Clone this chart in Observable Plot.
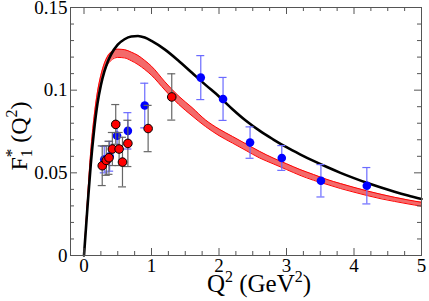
<!DOCTYPE html>
<html><head><meta charset="utf-8">
<script src="https://cdn.jsdelivr.net/npm/d3@7"></script>
<script src="https://cdn.jsdelivr.net/npm/@observablehq/plot@0.6"></script>
<style>body{margin:0;background:#fff}svg{display:block}</style>
</head><body><div id="chart"></div>
<script>
// Black model curve
const blackX = [0,0.05,0.1,0.15,0.2,0.25,0.3,0.35,0.4,0.5,0.6,0.7,0.8,0.9,1.0,1.2,1.4,1.6,1.8,2.0,2.2,2.4,2.6,2.8,3.0,3.2,3.4,3.6,3.8,4.0,4.2,4.4,4.6,4.8,5.0];
const blackY = [0,0.0285,0.055,0.076,0.092,0.103,0.111,0.117,0.1215,0.1275,0.1308,0.1325,0.1328,0.1318,0.1298,0.1245,0.1178,0.1105,0.1032,0.0962,0.0885,0.0815,0.0755,0.0703,0.0655,0.0612,0.0572,0.0535,0.0500,0.0468,0.0438,0.0411,0.0386,0.0363,0.0342];
// Red band (lower / upper)
const bandX = [0,0.05,0.1,0.15,0.2,0.25,0.3,0.35,0.4,0.5,0.6,0.7,0.8,0.9,1.0,1.2,1.4,1.6,1.8,2.0,2.2,2.4,2.6,2.8,3.0,3.2,3.4,3.6,3.8,4.0,4.2,4.4,4.6,4.8,5.0];
const bandLo = [0,0.030,0.058,0.079,0.094,0.104,0.111,0.1155,0.118,0.1198,0.1195,0.1178,0.1155,0.1125,0.109,0.100,0.0915,0.0845,0.078,0.0725,0.068,0.0635,0.059,0.0555,0.052,0.0485,0.0455,0.043,0.0405,0.0383,0.0362,0.0343,0.0327,0.0312,0.0298];
const bandHi = [0,0.033,0.063,0.084,0.099,0.109,0.116,0.1205,0.123,0.1248,0.1245,0.123,0.121,0.118,0.1145,0.105,0.0965,0.0895,0.082,0.0765,0.072,0.0675,0.063,0.059,0.0555,0.052,0.049,0.046,0.0435,0.0412,0.039,0.037,0.0352,0.0336,0.0322];
// Red data points
const redX = [0.27,0.33,0.37,0.42,0.47,0.52,0.57,0.65,0.95,1.30];
const redY = [0.0543,0.0575,0.0591,0.0644,0.0793,0.0644,0.0565,0.0678,0.0768,0.0959];
const redErr = [0.012,0.009,0.010,0.010,0.012,0.010,0.015,0.014,0.014,0.014];
// Blue data points
const blueX = [0.30,0.38,0.49,0.65,0.90,1.73,2.06,2.46,2.93,3.51,4.19];
const blueY = [0.058,0.060,0.0724,0.0754,0.0907,0.1076,0.0947,0.0683,0.0590,0.0452,0.0422];
const blueErr = [0.008,0.009,0.008,0.011,0.0135,0.0133,0.0130,0.0095,0.0075,0.0098,0.011];
// Ticks
const xMajor = [0,1,2,3,4,5];
const xMinor = [0.25,0.5,0.75,1.25,1.5,1.75,2.25,2.5,2.75,3.25,3.5,3.75,4.25,4.5,4.75];
const yMajor = [0,0.05,0.1,0.15];
const yMinor = [0.01,0.02,0.03,0.04,0.06,0.07,0.08,0.09,0.11,0.12,0.13,0.14];
const xTickLabels = ["0","1","2","3","4","5"];
const yTickLabels = ["0","0.05","0.1","0.15"];

const W = 429, H = 301, mL = 70, mR = 8, mT = 7, mB = 46;
const fh = H - mT - mB, fw = W - mL - mR;
const FONT = "Liberation Serif";
const black = blackX.map((x,i)=>({x, y: blackY[i]}));
const band = bandX.map((x,i)=>({x, lo: bandLo[i], hi: bandHi[i]}));
const red = redX.map((x,i)=>({x, y: redY[i], lo: redY[i]-redErr[i], hi: redY[i]+redErr[i]}));
const blue = blueX.map((x,i)=>({x, y: blueY[i], lo: blueY[i]-blueErr[i], hi: blueY[i]+blueErr[i]}));
const axisCol = "#555";
const capW = 4;

const svg = Plot.plot({
  width: W, height: H, marginLeft: mL, marginRight: mR, marginTop: mT, marginBottom: mB,
  style: {fontFamily: FONT, fontSize: "19px", color: "black", background: "white", overflow: "visible"},
  x: {domain: [-0.2, 5]},
  y: {domain: [0, 0.15]},
  marks: [
    Plot.areaY(band, {x: "x", y1: "lo", y2: "hi", fill: "#f36a6a", curve: "monotone-x"}),
    Plot.line(band, {x: "x", y: "lo", stroke: "red", strokeWidth: 1, curve: "monotone-x"}),
    Plot.line(band, {x: "x", y: "hi", stroke: "red", strokeWidth: 1, curve: "monotone-x"}),
    Plot.line(black, {x: "x", y: "y", stroke: "black", strokeWidth: 2.6, curve: "monotone-x"}),
    // blue error bars
    Plot.ruleX(blue, {x: "x", y1: "lo", y2: "hi", stroke: "#6b6bff", strokeWidth: 1.2}),
    Plot.ruleY(blue, {y: "hi", x1: "x", x2: "x", insetLeft: -capW, insetRight: -capW, stroke: "#6b6bff", strokeWidth: 1.2}),
    Plot.ruleY(blue, {y: "lo", x1: "x", x2: "x", insetLeft: -capW, insetRight: -capW, stroke: "#6b6bff", strokeWidth: 1.2}),
    Plot.dot(blue, {x: "x", y: "y", r: 4.3, fill: "#0000ff", stroke: "none"}),
    // red error bars
    Plot.ruleX(red, {x: "x", y1: "lo", y2: "hi", stroke: "#666", strokeWidth: 1.2}),
    Plot.ruleY(red, {y: "hi", x1: "x", x2: "x", insetLeft: -capW, insetRight: -capW, stroke: "#666", strokeWidth: 1.2}),
    Plot.ruleY(red, {y: "lo", x1: "x", x2: "x", insetLeft: -capW, insetRight: -capW, stroke: "#666", strokeWidth: 1.2}),
    Plot.dot(red, {x: "x", y: "y", r: 4.3, fill: "red", stroke: "black", strokeWidth: 1}),
    // inward ticks
    Plot.ruleX(xMajor, {x: d=>d, insetTop: fh - 7, stroke: axisCol}),
    Plot.ruleX(xMajor, {x: d=>d, insetBottom: fh - 7, stroke: axisCol}),
    Plot.ruleX(xMinor, {x: d=>d, insetTop: fh - 4, stroke: axisCol}),
    Plot.ruleX(xMinor, {x: d=>d, insetBottom: fh - 4, stroke: axisCol}),
    Plot.ruleY(yMajor, {y: d=>d, insetRight: fw - 7, stroke: axisCol}),
    Plot.ruleY(yMajor, {y: d=>d, insetLeft: fw - 7, stroke: axisCol}),
    Plot.ruleY(yMinor, {y: d=>d, insetRight: fw - 4, stroke: axisCol}),
    Plot.ruleY(yMinor, {y: d=>d, insetLeft: fw - 4, stroke: axisCol}),
    Plot.frame({stroke: axisCol, strokeWidth: 1}),
    Plot.axisX({ticks: xMajor, tickSize: 0, tickPadding: 3, label: null, fontFamily: FONT, fontSize: 19, tickFormat: (d)=>xTickLabels[xMajor.indexOf(d)]}),
    Plot.axisY({ticks: yMajor, tickSize: 0, tickPadding: 3, label: null, fontFamily: FONT, fontSize: 19, tickFormat: (d)=>yTickLabels[yMajor.indexOf(d)]})
  ]
});

const s = d3.select(svg);
// x axis label
const xl = s.append("text").attr("x", 259).attr("y", 292).attr("text-anchor", "middle")
  .attr("font-family", FONT).attr("font-size", 25).attr("fill", "black");
xl.append("tspan").text("Q");
xl.append("tspan").attr("dy", -10).attr("font-size", 16).text("2");
xl.append("tspan").attr("dy", 10).text(" (GeV");
xl.append("tspan").attr("dy", -10).attr("font-size", 16).text("2");
xl.append("tspan").attr("dy", 10).text(")");
// y axis label
const yl = s.append("text").attr("transform", "translate(27,136) rotate(-90)").attr("text-anchor", "middle")
  .attr("font-family", FONT).attr("font-size", 24).attr("fill", "black");
yl.append("tspan").text("F");
yl.append("tspan").attr("dy", 5).attr("font-size", 16).text("1");
yl.append("tspan").attr("dx", -8).attr("dy", -15).attr("font-size", 17).text("*");
yl.append("tspan").attr("dy", 10).text(" (Q");
yl.append("tspan").attr("dy", -10).attr("font-size", 16).text("2");
yl.append("tspan").attr("dy", 10).text(")");

document.getElementById("chart").appendChild(svg);
</script></body></html>
